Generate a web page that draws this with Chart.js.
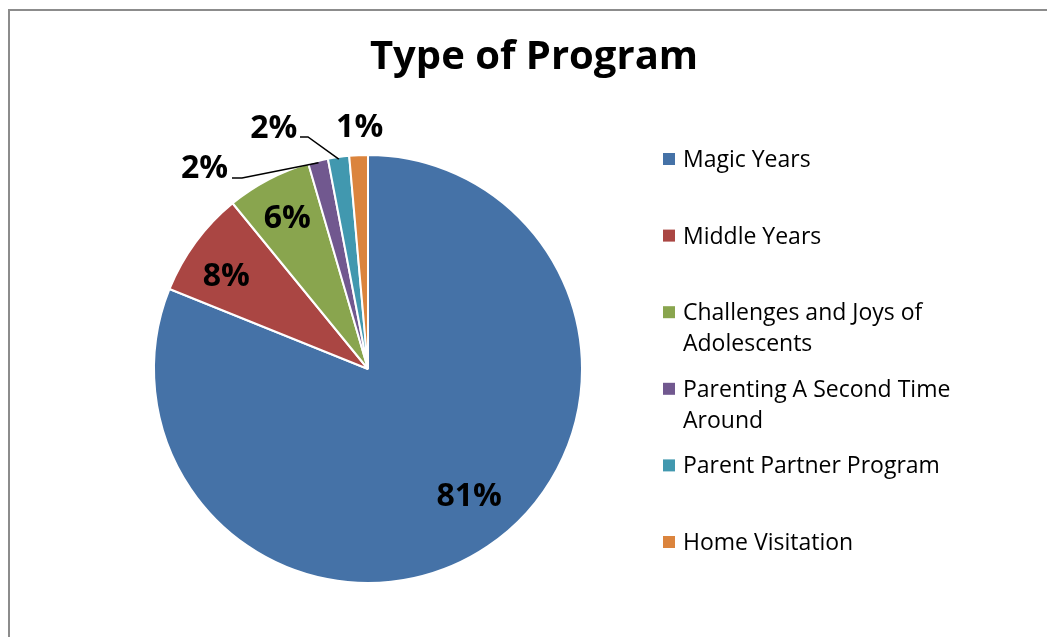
<!DOCTYPE html>
<html>
<head>
<meta charset="utf-8">
<title>Type of Program</title>
<script src="https://cdn.jsdelivr.net/npm/chart.js"></script>
<style>
  html, body { margin: 0; padding: 0; background: #fff; overflow: hidden; }
  #frame {
    position: absolute; left: 8px; top: 9px; width: 1100px; height: 700px;
    border: 2px solid #8c8c8c; box-sizing: border-box;
  }
  #wrap { position: absolute; left: 0; top: 0; width: 1047px; height: 637px; }
</style>
</head>
<body>
<div id="frame"></div>
<div id="wrap"><canvas id="pie"></canvas></div>
<script>
// share of participants per program (%)
const CATEGORIES = [
  "Magic Years",
  "Middle Years",
  "Challenges and Joys of Adolescents",
  "Parenting A Second Time Around",
  "Parent Partner Program",
  "Home Visitation",
];
const SHARES = [81.1, 8.0, 6.4, 1.5, 1.6, 1.4];
const COLORS = ["#4572a7", "#aa4643", "#89a54e", "#71588f", "#4198af", "#db843d"];

const FONT = "'Open Sans', 'Noto Sans', sans-serif";

// label placement: nudges for the inside labels, leader lines for the small slices
const INSIDE = [[9, -11], [-9, 3], [-4, -7]];
const OUTSIDE = [null, null, null,
  { dx: -114, dy: 4, line: [[242, 178], [232, 178]] },
  { dx: -65, dy: -33, line: [[308, 137], [300, 137]] },
  { dx: 1, dy: -32, line: null },
];

const pieLabels = {
  id: "pieLabels",
  afterDatasetsDraw(chart) {
    const ctx = chart.ctx;
    const arcs = chart.getDatasetMeta(0).data;
    const total = SHARES.reduce((a, b) => a + b, 0);
    const size = 32;
    ctx.save();
    ctx.font = "bold " + size + "px " + FONT;
    ctx.fillStyle = "#000";
    ctx.textAlign = "center";
    ctx.textBaseline = "alphabetic";
    const put = function (t, x, y) { ctx.fillText(t, x, y + size * 0.36); };
    arcs.forEach(function (arc, i) {
      const p = arc.getProps(["x", "y", "startAngle", "endAngle", "outerRadius"], true);
      const mid = (p.startAngle + p.endAngle) / 2;
      const txt = Math.round((SHARES[i] / total) * 100) + "%";
      const o = OUTSIDE[i];
      if (!o) {
        const r = p.outerRadius * 0.77;
        put(txt, p.x + Math.cos(mid) * r + INSIDE[i][0], p.y + Math.sin(mid) * r + INSIDE[i][1]);
        return;
      }
      const ex = p.x + Math.cos(mid) * (p.outerRadius - 2);
      const ey = p.y + Math.sin(mid) * (p.outerRadius - 2);
      if (o.line) {
        ctx.beginPath();
        ctx.strokeStyle = "#000";
        ctx.lineWidth = 1.5;
        ctx.moveTo(ex, ey);
        o.line.forEach(function (pt) { ctx.lineTo(pt[0], pt[1]); });
        ctx.stroke();
      }
      put(txt, ex + o.dx, ey + o.dy);
    });
    ctx.restore();
  },
  afterDraw(chart) {
    const ctx = chart.ctx;
    ctx.save();
    // title
    ctx.font = "bold 40px " + FONT;
    ctx.fillStyle = "#000";
    ctx.textAlign = "center";
    ctx.textBaseline = "alphabetic";
    ctx.fillText("Type of Program", 534, 69);

    // legend, wrapped like the original
    ctx.font = "23px " + FONT;
    ctx.textAlign = "left";
    const maxW = 290;
    CATEGORIES.forEach(function (name, i) {
      const y = 159 + i * 76.6;
      ctx.fillStyle = COLORS[i];
      ctx.fillRect(663, y - 6, 12, 12);
      const words = name.split(" ");
      const lines = [];
      let cur = "";
      words.forEach(function (w) {
        const t = cur ? cur + " " + w : w;
        if (ctx.measureText(t).width > maxW && cur) {
          lines.push(cur);
          cur = w;
        } else {
          cur = t;
        }
      });
      lines.push(cur);
      ctx.fillStyle = "#000";
      lines.forEach(function (ln, k) {
        ctx.fillText(ln, 683, y + 8 + k * 31);
      });
    });
    ctx.restore();
  },
};

new Chart(document.getElementById("pie").getContext("2d"), {
  type: "pie",
  data: {
    labels: CATEGORIES,
    datasets: [{
      data: SHARES,
      backgroundColor: COLORS,
      borderColor: "#ffffff",
      borderWidth: 2,
    }],
  },
  options: {
    responsive: true,
    maintainAspectRatio: false,
    animation: false,
    layout: { padding: { left: 153, right: 464, top: 154, bottom: 53 } },
    plugins: {
      legend: { display: false },
      tooltip: { enabled: false },
      title: { display: false },
    },
  },
  plugins: [pieLabels],
});
</script>
</body>
</html>
